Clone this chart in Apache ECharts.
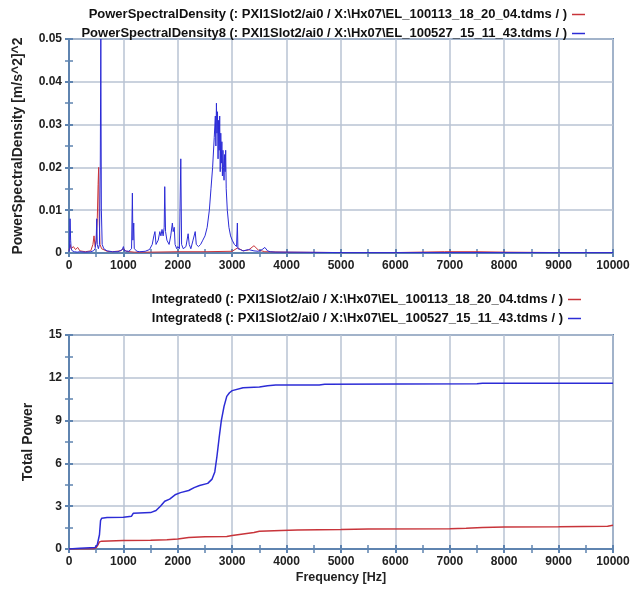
<!DOCTYPE html>
<html><head><meta charset="utf-8">
<script src="https://cdn.jsdelivr.net/npm/echarts@6/dist/echarts.min.js"></script>
<style>html,body{margin:0;padding:0;background:#fff}#c{width:641px;height:589px}</style>
</head><body><div id="c"></div>
<script>
// ---- data ----
const psdBlueFreq = [0,10,20,30,40,60,100,150,200,300,400,450,480,500,510,520,540,560,575,585,595,610,640,700,800,900,980,1000,1020,1100,1150,1165,1175,1190,1200,1250,1300,1400,1480,1530,1560,1580,1600,1640,1670,1690,1710,1730,1750,1760,1775,1800,1840,1870,1900,1915,1935,1950,1980,2000,2030,2055,2070,2100,2150,2190,2210,2240,2280,2320,2340,2380,2420,2460,2500,2540,2580,2610,2640,2670,2690,2700,2710,2720,2730,2740,2750,2760,2770,2780,2790,2800,2810,2820,2830,2840,2850,2860,2870,2880,2890,2910,2940,2970,3000,3040,3080,3095,3105,3150,3200,3300,3400,3480,3550,3600,3650,3700,3800,4000,5000,6000,7000,8000,9000,10000];
const psdBlueVal = [0.0003,0.001,0.008,0.003,0.001,0.0005,0.0003,0.0002,0.0003,0.0002,0.0003,0.0005,0.001,0.003,0.008,0.002,0.001,0.002,0.02,0.05,0.01,0.002,0.001,0.0005,0.0003,0.0003,0.0008,0.0015,0.0005,0.0004,0.001,0.014,0.003,0.007,0.001,0.0004,0.0003,0.0004,0.0008,0.002,0.004,0.005,0.002,0.003,0.005,0.004,0.0055,0.004,0.006,0.0155,0.005,0.003,0.002,0.004,0.007,0.005,0.006,0.002,0.001,0.0015,0.001,0.022,0.002,0.001,0.0015,0.0045,0.002,0.001,0.003,0.005,0.002,0.0015,0.002,0.003,0.004,0.006,0.01,0.015,0.02,0.027,0.032,0.025,0.035,0.028,0.033,0.022,0.031,0.024,0.032,0.019,0.028,0.021,0.026,0.018,0.024,0.02,0.017,0.023,0.019,0.024,0.015,0.01,0.006,0.004,0.003,0.002,0.0015,0.007,0.001,0.0008,0.0005,0.0008,0.0005,0.0004,0.0008,0.0013,0.0005,0.0003,0.0002,0.0002,0.0001,0.0001,0.0001,0.0001,0.0001,0.0001];
const psdRedFreq = [0,20,40,80,120,160,200,300,400,440,460,480,500,520,535,545,555,570,600,700,800,950,1000,1050,1200,1500,2000,2500,3000,3100,3200,3300,3400,3480,3600,4000,5000,6000,6900,7500,8000,9000,10000];
const psdRedVal = [0.0005,0.002,0.001,0.0015,0.0008,0.0013,0.0005,0.0003,0.0005,0.002,0.004,0.0015,0.003,0.008,0.016,0.02,0.008,0.002,0.001,0.0004,0.0003,0.0005,0.001,0.0004,0.0002,0.0002,0.0003,0.0003,0.0004,0.0012,0.0005,0.0007,0.0017,0.0007,0.0003,0.0002,0.0001,0.0001,0.0003,0.0003,0.0002,0.0001,0.0001];
const intBlueFreq = [0,200,480,520,560,580,600,700,1000,1150,1180,1500,1600,1680,1760,1850,1950,2050,2200,2300,2400,2550,2630,2680,2720,2760,2800,2850,2900,2950,3000,3200,3500,3650,3800,4600,4700,7500,7600,10000];
const intBlueVal = [0,0.05,0.1,0.3,1.0,2.0,2.15,2.2,2.22,2.3,2.5,2.55,2.7,3.0,3.35,3.5,3.8,3.95,4.1,4.3,4.45,4.6,4.9,5.4,6.5,7.8,9.0,10.0,10.7,10.95,11.1,11.3,11.35,11.45,11.5,11.5,11.55,11.58,11.62,11.62];
const intRedFreq = [0,450,500,540,560,600,1000,1500,1800,2000,2200,2500,2900,3000,3200,3400,3500,3900,4200,5000,5500,7000,7300,7600,8000,9000,9900,10000];
const intRedVal = [0,0.02,0.1,0.35,0.5,0.55,0.6,0.62,0.65,0.7,0.8,0.85,0.88,0.95,1.05,1.15,1.25,1.3,1.33,1.36,1.4,1.42,1.45,1.5,1.55,1.56,1.6,1.67];
const xTicks = {min:0, max:10000, interval:1000};
const yTopTicks = {min:0, max:0.05, interval:0.01};
const yBotTicks = {min:0, max:15, interval:3};
const names = {
  psd0:'PowerSpectralDensity (: PXI1Slot2/ai0 / X:\\Hx07\\EL_100113_18_20_04.tdms / )',
  psd8:'PowerSpectralDensity8 (: PXI1Slot2/ai0 / X:\\Hx07\\EL_100527_15_11_43.tdms / )',
  int0:'Integrated0 (: PXI1Slot2/ai0 / X:\\Hx07\\EL_100113_18_20_04.tdms / )',
  int8:'Integrated8 (: PXI1Slot2/ai0 / X:\\Hx07\\EL_100527_15_11_43.tdms / )'
};
// ---- build ----
const zip = (a,b)=>a.map((v,i)=>[v,b[i]]);
const FONT = 'Liberation Sans';
const AX = '#5f84b0', GRID = '#b9c3d3', RED = '#c8343a', BLUE = '#2c2cd6';
const lab = {fontFamily:FONT, fontSize:12, fontWeight:'bold', color:'#222'};
function xAx(gi, main, extra){
  return Object.assign({type:'value', gridIndex:gi, position:'bottom', min:xTicks.min, max:xTicks.max, interval:xTicks.interval,
    axisLine:{show:true, onZero:false, lineStyle:{color:AX, width:2}},
    axisTick:{show:true, inside:!main, length:4, lineStyle:{color:AX, width:2}},
    minorTick:{show:true, splitNumber:2, length:4, lineStyle:{color:AX, width:1.5}},
    axisLabel:{show:main, ...lab, margin:7, showMaxLabel:true, formatter:v=>String(v)},
    splitLine:{show:main, lineStyle:{color:GRID, width:1.5}}}, extra||{});
}
function yAx(gi, main, t, extra){
  return Object.assign({type:'value', gridIndex:gi, position:'left', min:t.min, max:t.max, interval:t.interval,
    axisLine:{show:true, onZero:false, lineStyle:{color:AX, width:2}},
    axisTick:{show:true, inside:!main, length:4, lineStyle:{color:AX, width:2}},
    minorTick:{show:true, splitNumber:2, length:4, lineStyle:{color:AX, width:1.5}},
    axisLabel:{show:main, ...lab, margin:7},
    splitLine:{show:main, lineStyle:{color:GRID, width:1.5}}}, extra||{});
}
function leg(name, color, top, right){
  return {data:[{name:name, itemStyle:{color:color}}], top:top, right:right, align:'right', icon:'rect', itemWidth:13, itemHeight:1.5, itemGap:0,
    padding:0, textStyle:{fontFamily:FONT, fontSize:13, fontWeight:'bold', color:'#111'}};
}
const chart = echarts.init(document.getElementById('c'), null, {renderer:'canvas'});
chart.setOption({
  backgroundColor:'#fff', animation:false,
  legend:[leg(names.psd0, RED, 8, 56), leg(names.psd8, BLUE, 27, 56), leg(names.int0, RED, 293, 60), leg(names.int8, BLUE, 312, 60)],
  grid:[
    {left:69, right:28, top:39, height:214, show:true, borderColor:AX, borderWidth:2},
    {left:69, right:28, top:335, height:214, show:true, borderColor:AX, borderWidth:2}
  ],
  xAxis:[xAx(0,true), xAx(0,false), xAx(1,true,{name:'Frequency [Hz]', nameLocation:'middle', nameGap:22, nameTextStyle:{...lab, fontSize:12.5}}), xAx(1,false)],
  yAxis:[
    yAx(0,true,yTopTicks,{name:'PowerSpectralDensity [m/s^2]^2', nameLocation:'middle', nameGap:44, nameTextStyle:{...lab, fontSize:14}}),
    yAx(0,false,yTopTicks),
    yAx(1,true,yBotTicks,{name:'Total Power', nameLocation:'middle', nameGap:34, nameTextStyle:{...lab, fontSize:14}}),
    yAx(1,false,yBotTicks)
  ],
  series:[
    {name:names.psd0, type:'line', xAxisIndex:0, yAxisIndex:0, data:zip(psdRedFreq, psdRedVal), symbol:'none', lineStyle:{color:RED, width:1}, itemStyle:{color:RED}, z:3},
    {name:names.psd8, type:'line', xAxisIndex:0, yAxisIndex:0, data:zip(psdBlueFreq, psdBlueVal), symbol:'none', lineStyle:{color:BLUE, width:1}, itemStyle:{color:BLUE}, z:4},
    {name:names.int0, type:'line', xAxisIndex:2, yAxisIndex:2, data:zip(intRedFreq, intRedVal), symbol:'none', lineStyle:{color:RED, width:1.5}, itemStyle:{color:RED}, z:3},
    {name:names.int8, type:'line', xAxisIndex:2, yAxisIndex:2, data:zip(intBlueFreq, intBlueVal), symbol:'none', lineStyle:{color:BLUE, width:1.5}, itemStyle:{color:BLUE}, z:4}
  ]
});
</script></body></html>
